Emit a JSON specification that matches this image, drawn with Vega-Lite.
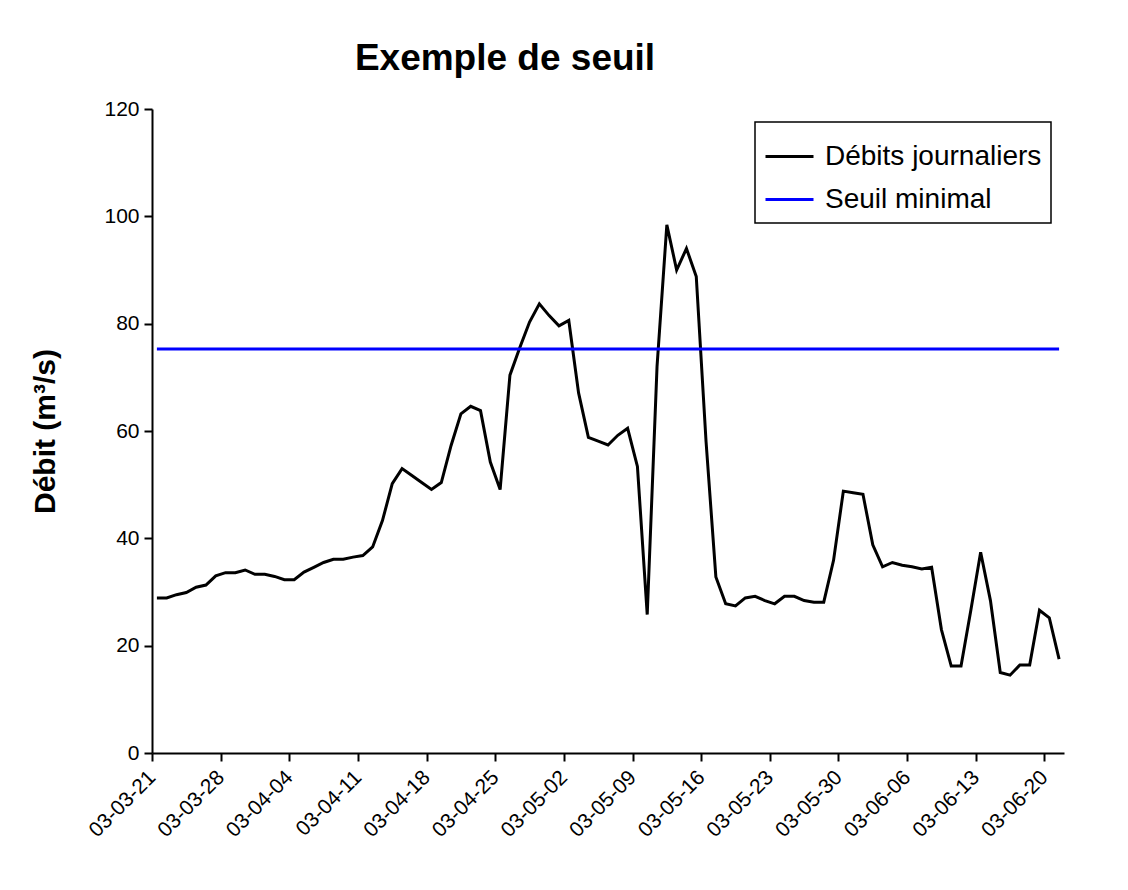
{
  "$schema": "https://vega.github.io/schema/vega-lite/v6.json",
  "width": 912,
  "height": 644,
  "autosize": {"type": "none"},
  "padding": {"left": 152, "top": 109, "right": 64, "bottom": 137},
  "background": "white",
  "title": {
    "text": "Exemple de seuil",
    "font": "Liberation Sans",
    "fontSize": 37,
    "fontWeight": "bold",
    "color": "black",
    "anchor": "middle",
    "dx": -103,
    "offset": 20
  },
  "data": {
    "format": {"parse": {"date": "date:'%Y-%m-%d'"}},
    "values": [
      {"date": "2003-03-21", "debit": 28.9, "seuil": 75.3},
      {"date": "2003-03-22", "debit": 28.9, "seuil": 75.3},
      {"date": "2003-03-23", "debit": 29.5, "seuil": 75.3},
      {"date": "2003-03-24", "debit": 29.9, "seuil": 75.3},
      {"date": "2003-03-25", "debit": 30.9, "seuil": 75.3},
      {"date": "2003-03-26", "debit": 31.3, "seuil": 75.3},
      {"date": "2003-03-27", "debit": 33.0, "seuil": 75.3},
      {"date": "2003-03-28", "debit": 33.6, "seuil": 75.3},
      {"date": "2003-03-29", "debit": 33.6, "seuil": 75.3},
      {"date": "2003-03-30", "debit": 34.1, "seuil": 75.3},
      {"date": "2003-03-31", "debit": 33.3, "seuil": 75.3},
      {"date": "2003-04-01", "debit": 33.3, "seuil": 75.3},
      {"date": "2003-04-02", "debit": 32.9, "seuil": 75.3},
      {"date": "2003-04-03", "debit": 32.3, "seuil": 75.3},
      {"date": "2003-04-04", "debit": 32.3, "seuil": 75.3},
      {"date": "2003-04-05", "debit": 33.7, "seuil": 75.3},
      {"date": "2003-04-06", "debit": 34.6, "seuil": 75.3},
      {"date": "2003-04-07", "debit": 35.5, "seuil": 75.3},
      {"date": "2003-04-08", "debit": 36.1, "seuil": 75.3},
      {"date": "2003-04-09", "debit": 36.1, "seuil": 75.3},
      {"date": "2003-04-10", "debit": 36.5, "seuil": 75.3},
      {"date": "2003-04-11", "debit": 36.8, "seuil": 75.3},
      {"date": "2003-04-12", "debit": 38.4, "seuil": 75.3},
      {"date": "2003-04-13", "debit": 43.3, "seuil": 75.3},
      {"date": "2003-04-14", "debit": 50.2, "seuil": 75.3},
      {"date": "2003-04-15", "debit": 53.0, "seuil": 75.3},
      {"date": "2003-04-16", "debit": 51.7, "seuil": 75.3},
      {"date": "2003-04-17", "debit": 50.4, "seuil": 75.3},
      {"date": "2003-04-18", "debit": 49.1, "seuil": 75.3},
      {"date": "2003-04-19", "debit": 50.4, "seuil": 75.3},
      {"date": "2003-04-20", "debit": 57.3, "seuil": 75.3},
      {"date": "2003-04-21", "debit": 63.2, "seuil": 75.3},
      {"date": "2003-04-22", "debit": 64.6, "seuil": 75.3},
      {"date": "2003-04-23", "debit": 63.8, "seuil": 75.3},
      {"date": "2003-04-24", "debit": 54.2, "seuil": 75.3},
      {"date": "2003-04-25", "debit": 49.1, "seuil": 75.3},
      {"date": "2003-04-26", "debit": 70.4, "seuil": 75.3},
      {"date": "2003-04-27", "debit": 75.5, "seuil": 75.3},
      {"date": "2003-04-28", "debit": 80.3, "seuil": 75.3},
      {"date": "2003-04-29", "debit": 83.7, "seuil": 75.3},
      {"date": "2003-04-30", "debit": 81.5, "seuil": 75.3},
      {"date": "2003-05-01", "debit": 79.6, "seuil": 75.3},
      {"date": "2003-05-02", "debit": 80.6, "seuil": 75.3},
      {"date": "2003-05-03", "debit": 67.1, "seuil": 75.3},
      {"date": "2003-05-04", "debit": 58.8, "seuil": 75.3},
      {"date": "2003-05-05", "debit": 58.1, "seuil": 75.3},
      {"date": "2003-05-06", "debit": 57.4, "seuil": 75.3},
      {"date": "2003-05-07", "debit": 59.2, "seuil": 75.3},
      {"date": "2003-05-08", "debit": 60.5, "seuil": 75.3},
      {"date": "2003-05-09", "debit": 53.4, "seuil": 75.3},
      {"date": "2003-05-10", "debit": 25.8, "seuil": 75.3},
      {"date": "2003-05-11", "debit": 72.0, "seuil": 75.3},
      {"date": "2003-05-12", "debit": 98.4, "seuil": 75.3},
      {"date": "2003-05-13", "debit": 90.0, "seuil": 75.3},
      {"date": "2003-05-14", "debit": 94.0, "seuil": 75.3},
      {"date": "2003-05-15", "debit": 88.8, "seuil": 75.3},
      {"date": "2003-05-16", "debit": 58.0, "seuil": 75.3},
      {"date": "2003-05-17", "debit": 32.8, "seuil": 75.3},
      {"date": "2003-05-18", "debit": 27.8, "seuil": 75.3},
      {"date": "2003-05-19", "debit": 27.4, "seuil": 75.3},
      {"date": "2003-05-20", "debit": 28.9, "seuil": 75.3},
      {"date": "2003-05-21", "debit": 29.2, "seuil": 75.3},
      {"date": "2003-05-22", "debit": 28.4, "seuil": 75.3},
      {"date": "2003-05-23", "debit": 27.8, "seuil": 75.3},
      {"date": "2003-05-24", "debit": 29.2, "seuil": 75.3},
      {"date": "2003-05-25", "debit": 29.2, "seuil": 75.3},
      {"date": "2003-05-26", "debit": 28.4, "seuil": 75.3},
      {"date": "2003-05-27", "debit": 28.1, "seuil": 75.3},
      {"date": "2003-05-28", "debit": 28.1, "seuil": 75.3},
      {"date": "2003-05-29", "debit": 35.9, "seuil": 75.3},
      {"date": "2003-05-30", "debit": 48.8, "seuil": 75.3},
      {"date": "2003-05-31", "debit": 48.5, "seuil": 75.3},
      {"date": "2003-06-01", "debit": 48.2, "seuil": 75.3},
      {"date": "2003-06-02", "debit": 38.8, "seuil": 75.3},
      {"date": "2003-06-03", "debit": 34.7, "seuil": 75.3},
      {"date": "2003-06-04", "debit": 35.5, "seuil": 75.3},
      {"date": "2003-06-05", "debit": 35.0, "seuil": 75.3},
      {"date": "2003-06-06", "debit": 34.7, "seuil": 75.3},
      {"date": "2003-06-07", "debit": 34.3, "seuil": 75.3},
      {"date": "2003-06-08", "debit": 34.6, "seuil": 75.3},
      {"date": "2003-06-09", "debit": 23.0, "seuil": 75.3},
      {"date": "2003-06-10", "debit": 16.2, "seuil": 75.3},
      {"date": "2003-06-11", "debit": 16.2, "seuil": 75.3},
      {"date": "2003-06-12", "debit": 26.6, "seuil": 75.3},
      {"date": "2003-06-13", "debit": 37.4, "seuil": 75.3},
      {"date": "2003-06-14", "debit": 28.4, "seuil": 75.3},
      {"date": "2003-06-15", "debit": 15.0, "seuil": 75.3},
      {"date": "2003-06-16", "debit": 14.5, "seuil": 75.3},
      {"date": "2003-06-17", "debit": 16.4, "seuil": 75.3},
      {"date": "2003-06-18", "debit": 16.4, "seuil": 75.3},
      {"date": "2003-06-19", "debit": 26.6, "seuil": 75.3},
      {"date": "2003-06-20", "debit": 25.2, "seuil": 75.3},
      {"date": "2003-06-21", "debit": 17.5, "seuil": 75.3}
    ]
  },
  "transform": [
    {"fold": ["debit", "seuil"], "as": ["serie", "valeur"]}
  ],
  "mark": {"type": "line", "strokeWidth": 3, "clip": false},
  "encoding": {
    "x": {
      "field": "date",
      "type": "temporal",
      "timeUnit": "yearmonthdate",
      "bandPosition": 0.5,
      "scale": {
        "domain": [{"year": 2003, "month": 3, "date": 21}, {"year": 2003, "month": 6, "date": 22}],
        "nice": false
      },
      "axis": {
        "title": null,
        "grid": false,
        "format": "%y-%m-%d",
        "formatType": "time",
        "labelAngle": -45,
        "labelAlign": "right",
        "labelBaseline": "middle",
        "labelPadding": 13,
        "labelOverlap": false,
        "labelBound": false,
        "labelFlush": false,
        "values": [
          {"year": 2003, "month": 3, "date": 21},
          {"year": 2003, "month": 3, "date": 28},
          {"year": 2003, "month": 4, "date": 4},
          {"year": 2003, "month": 4, "date": 11},
          {"year": 2003, "month": 4, "date": 18},
          {"year": 2003, "month": 4, "date": 25},
          {"year": 2003, "month": 5, "date": 2},
          {"year": 2003, "month": 5, "date": 9},
          {"year": 2003, "month": 5, "date": 16},
          {"year": 2003, "month": 5, "date": 23},
          {"year": 2003, "month": 5, "date": 30},
          {"year": 2003, "month": 6, "date": 6},
          {"year": 2003, "month": 6, "date": 13},
          {"year": 2003, "month": 6, "date": 20}
        ]
      }
    },
    "y": {
      "field": "valeur",
      "type": "quantitative",
      "scale": {"domain": [0, 120], "nice": false},
      "axis": {
        "title": "Débit (m³/s)",
        "titleFontWeight": "bold",
        "titleFontSize": 30,
        "titlePadding": 43,
        "grid": false,
        "values": [0, 20, 40, 60, 80, 100, 120],
        "labelPadding": 5
      }
    },
    "color": {
      "field": "serie",
      "type": "nominal",
      "scale": {"domain": ["debit", "seuil"], "range": ["#000000", "#0000ff"]},
      "legend": {
        "title": null,
        "orient": "top-right",
        "offset": 13,
        "labelExpr": "datum.label == 'debit' ? 'Débits journaliers' : 'Seuil minimal'",
        "labelLimit": 400,
        "symbolType": "stroke",
        "symbolSize": 2304,
        "symbolStrokeWidth": 3,
        "labelFontSize": 28,
        "labelFont": "Liberation Sans",
        "labelColor": "black",
        "labelOffset": 10,
        "rowPadding": 3,
        "padding": 9,
        "strokeColor": "black",
        "fillColor": "white"
      }
    }
  },
  "config": {
    "font": "Liberation Sans",
    "view": {"stroke": null},
    "axis": {
      "labelFont": "Liberation Sans",
      "labelFontSize": 21,
      "labelColor": "black",
      "titleColor": "black",
      "titleFont": "Liberation Sans",
      "domainColor": "black",
      "domainWidth": 2,
      "tickColor": "black",
      "tickWidth": 2,
      "tickSize": 8
    },
    "legend": {"strokeWidth": 1.5}
  }
}
